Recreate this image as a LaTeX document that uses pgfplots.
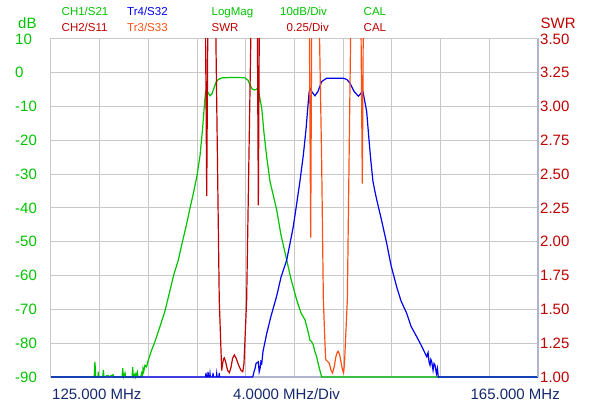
\documentclass[border=0pt]{standalone}
\usepackage{fontspec}
\setmainfont{Liberation Sans}
\usepackage{pgfplots}
\pgfplotsset{compat=1.18}
\definecolor{cgreen}{RGB}{0,195,0}
\definecolor{cblue}{RGB}{0,0,240}
\definecolor{cred}{RGB}{190,0,0}
\definecolor{corange}{RGB}{255,80,20}
\definecolor{gridgray}{RGB}{200,200,200}
\definecolor{spine}{RGB}{178,180,205}
\definecolor{navy}{RGB}{20,40,110}
\begin{document}
\begin{tikzpicture}[x=1pt,y=1pt]
\useasboundingbox (0,0) rectangle (600,407);
\begin{axis}[at={(51pt,30pt)}, anchor=south west, scale only axis,
  width=487pt, height=338pt,
  xmin=125, xmax=165, ymin=-90, ymax=10,
  xtick={125,129,133,137,141,145,149,153,157,161,165}, xticklabels={},
  ytick={-90,-80,-70,-60,-50,-40,-30,-20,-10,0,10},
  yticklabels={-90,-80,-70,-60,-50,-40,-30,-20,-10,0,10},
  yticklabel style={font=\fontsize{15}{15}\selectfont, text=cgreen, anchor=west, inner sep=0pt, xshift=-36pt},
  grid=major, major grid style={draw=gridgray, line width=1pt},
  major tick length=0pt,
  axis line style={draw=gridgray, line width=1pt},
  clip=false]
\draw[spine, line width=1.4pt] (rel axis cs:0,0) -- (rel axis cs:1,0);
\addplot[cgreen, line width=1.2pt] coordinates {
(125,-90) (128.55,-90) (128.61,-85.5) (128.67,-90) (128.85,-90) (128.89,-88.4) (128.93,-90) (129.25,-90) (129.30,-88) (129.35,-90) (129.68,-89.5) (129.75,-90) (130.09,-89.3) (130.15,-90) (130.84,-90) (130.89,-87.4) (130.95,-90) (131.08,-88.8) (131.13,-90) (131.66,-90) (131.71,-87.1) (131.76,-90) (131.90,-89) (131.95,-90) (132.09,-88.5) (132.14,-90) (132.37,-90) (132.45,-88.8) (132.52,-89.5) (132.56,-87.5) (132.62,-88.3) (132.72,-86.5) (132.85,-87) (132.99,-85) (133.27,-82) (133.54,-79.5) (133.95,-75.1) (134.36,-70.5) (134.72,-65.2) (135.10,-59.5) (135.46,-55.4) (135.76,-50.5) (136.09,-45.5) (136.42,-40) (136.69,-35.7) (136.99,-30.5) (137.24,-24.5) (137.44,-17) (137.61,-9) (137.70,-5.5) (137.79,-4.9) (137.90,-5.9) (138.06,-6.8) (138.22,-6.2) (138.39,-4.5) (138.55,-2.8) (138.74,-2.0) (139.02,-1.5) (139.70,-1.4) (140.52,-1.4) (140.93,-1.5) (141.18,-2.2) (141.35,-3.6) (141.51,-4.7) (141.70,-5.1) (141.84,-4.9) (141.98,-4.6) (142.08,-6) (142.31,-10.5) (142.50,-18) (142.72,-25) (142.99,-32.2) (143.54,-40.6) (143.89,-48) (144.36,-55.4) (144.71,-61) (145.18,-67.2) (145.53,-71) (145.86,-73.1) (146.11,-76.5) (146.27,-79.1) (146.40,-79.5) (146.54,-80.5) (146.68,-82.5) (146.82,-84) (147.01,-87) (147.23,-90) (165,-90)
};
\addplot[cblue, line width=1.2pt] coordinates {
(125,-90) (137.70,-90) (137.73,-88.8) (137.76,-90) (137.87,-90) (137.90,-88.5) (137.93,-90) (138.03,-90) (138.06,-89) (138.09,-90) (138.28,-90) (138.31,-88.8) (138.34,-90) (138.58,-90) (138.61,-89) (138.64,-90) (138.79,-90) (138.82,-88.8) (138.85,-90) (141.57,-90) (141.67,-88.5) (141.76,-87.5) (141.84,-86) (142.03,-85.5) (142.10,-88.5) (142.17,-87.5) (142.24,-85.5) (142.31,-86) (142.41,-82.5) (142.72,-77.1) (143.07,-72) (143.54,-66) (143.89,-60.5) (144.36,-55.4) (144.63,-50.5) (144.90,-45.5) (145.21,-38) (145.45,-32) (145.72,-24.5) (145.94,-17) (146.11,-9.5) (146.20,-5.8) (146.27,-4.6) (146.44,-5.7) (146.68,-6.8) (146.93,-5.5) (147.23,-2.6) (147.64,-1.6) (149.01,-1.6) (149.31,-2.0) (149.56,-3.1) (149.89,-5.5) (150.24,-6.9) (150.42,-6.3) (150.60,-5.1) (150.75,-8) (150.93,-11.5) (151.10,-19) (151.27,-26) (151.44,-32) (151.60,-35) (151.75,-37.5) (152.11,-43) (152.57,-50.4) (152.93,-57) (153.39,-63.3) (153.75,-67.5) (154.22,-71.2) (154.57,-75) (155.04,-78.1) (155.39,-80.5) (155.86,-84) (155.97,-82.8) (156.05,-85.5) (156.13,-86.5) (156.20,-84.8) (156.27,-85.5) (156.38,-88) (156.46,-86) (156.54,-86.5) (156.66,-89) (156.74,-87.5) (156.81,-90) (165,-90)
};
\end{axis}
\begin{axis}[at={(51pt,30pt)}, anchor=south west, scale only axis,
  width=487pt, height=338pt,
  xmin=125, xmax=165, ymin=1, ymax=3.5,
  axis x line=none, axis y line*=right,
  ytick={1,1.25,1.5,1.75,2,2.25,2.5,2.75,3,3.25,3.5},
  yticklabels={1.00,1.25,1.50,1.75,2.00,2.25,2.50,2.75,3.00,3.25,3.50},
  yticklabel style={font=\fontsize{15}{15}\selectfont, text=cred, anchor=west, inner sep=0pt, xshift=2pt},
  major tick length=0pt,
  axis line style={draw=spine, line width=1.4pt}]
\addplot[cred, line width=1.2pt] coordinates {
(125,8) (137.68,8) (137.69,3.6) (137.79,2.34) (137.88,3.6) (137.89,8) (138.52,8) (138.53,3.6) (138.82,1.57) (139.02,1.047) (139.10,1.10) (139.17,1.135) (139.24,1.141) (139.35,1.11) (139.50,1.05) (139.65,1.032) (139.78,1.07) (139.92,1.14) (140.06,1.163) (140.20,1.14) (140.40,1.09) (140.60,1.05) (140.75,1.039) (140.85,1.10) (141.07,1.57) (141.43,3.6) (141.44,8) (141.94,8) (141.95,3.6) (142.03,2.27) (142.11,3.6) (142.12,8) (165,8)
};
\addplot[corange, line width=1.2pt] coordinates {
(125,8) (146.21,8) (146.22,3.6) (146.33,2.03) (146.41,3.6) (146.42,8) (147.03,8) (147.04,3.6) (147.23,2.6) (147.37,1.57) (147.55,1.14) (147.59,1.126) (147.72,1.115) (147.86,1.101) (148.00,1.05) (148.12,1.03) (148.25,1.07) (148.40,1.15) (148.52,1.185) (148.60,1.19) (148.72,1.16) (148.88,1.08) (149.00,1.035) (149.03,1.03) (149.10,1.09) (149.34,1.57) (149.62,3.6) (149.63,8) (150.45,8) (150.46,3.6) (150.57,2.43) (150.65,3.6) (150.66,8) (165,8)
};
\end{axis}
\begin{scope}[every node/.style={inner sep=0pt, font=\fontsize{11.5}{12}\selectfont}]
\node[anchor=base west, text=cgreen] at (61.5,391) {CH1/S21};
\node[anchor=base west, text=cblue] at (127,391) {Tr4/S32};
\node[anchor=base west, text=cgreen] at (211.5,391) {LogMag};
\node[anchor=base west, text=cgreen] at (280,391) {10dB/Div};
\node[anchor=base west, text=cgreen] at (363.5,391) {CAL};
\node[anchor=base west, text=cred] at (61.5,375) {CH2/S11};
\node[anchor=base west, text=corange] at (127,375) {Tr3/S33};
\node[anchor=base west, text=cred] at (211.5,375) {SWR};
\node[anchor=base east, text=cred] at (329,375) {0.25/Div};
\node[anchor=base west, text=cred] at (363.5,375) {CAL};
\end{scope}
\begin{scope}[every node/.style={inner sep=0pt, font=\fontsize{15}{15}\selectfont}]
\node[anchor=base west, text=cgreen] at (18,378) {dB};
\node[anchor=base west, text=cred] at (540.5,378) {SWR};
\node[anchor=base west, text=navy] at (52,7.5) {125.000 MHz};
\node[anchor=base west, text=navy] at (233,7.5) {4.0000 MHz/Div};
\node[anchor=base east, text=navy] at (560,7.5) {165.000 MHz};
\end{scope}
\end{tikzpicture}
\end{document}
